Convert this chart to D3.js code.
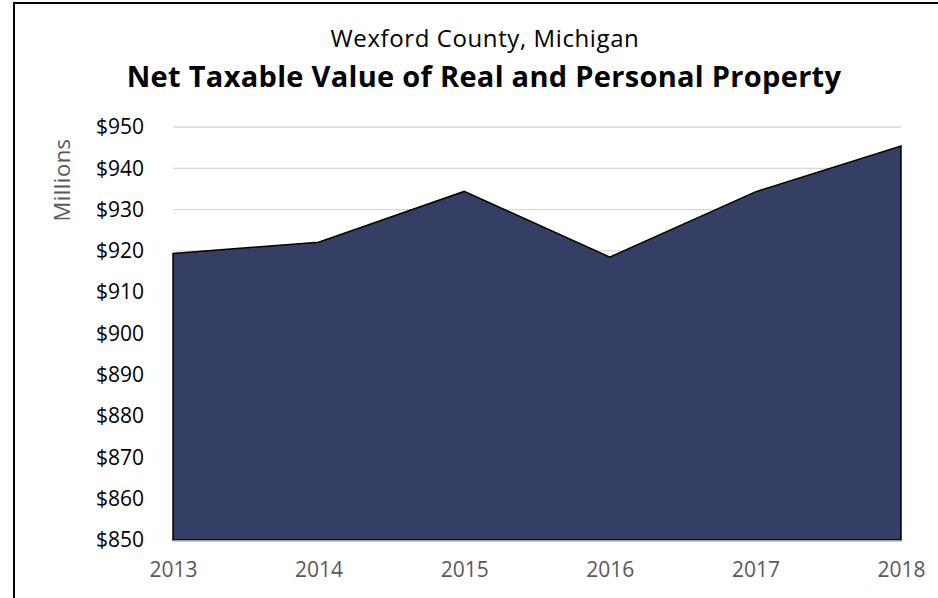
<!DOCTYPE html>
<meta charset="utf-8">
<script src="https://d3js.org/d3.v7.min.js"></script>
<style>
  body { margin: 0; background: #fff; }
  text { font-family: "Open Sans", "DejaVu Sans", sans-serif; }
</style>
<body>
<div id="chart"></div>
<script>
// data
var years = ["2013", "2014", "2015", "2016", "2017", "2018"];
var values = [919.4, 922.1, 934.4, 918.5, 934.3, 945.4];
var yTicks = [850, 860, 870, 880, 890, 900, 910, 920, 930, 940, 950];

var W = 938, H = 598;
var margin = {top: 127, right: 37, bottom: 58, left: 173};
var width = W - margin.left - margin.right,
    height = H - margin.top - margin.bottom;

var svg = d3.select("#chart").append("svg")
  .attr("width", W).attr("height", H);

// outer frame
svg.append("rect")
  .attr("x", 14).attr("y", 3)
  .attr("width", W + 10).attr("height", H + 10)
  .attr("fill", "none").attr("stroke", "#000").attr("stroke-width", 2);

svg.append("text")
  .attr("x", 485).attr("y", 47)
  .attr("text-anchor", "middle")
  .style("font-size", "24px").style("letter-spacing", "0.6px").style("fill", "#000")
  .text("Wexford County, Michigan");

svg.append("text")
  .attr("x", 484).attr("y", 87)
  .attr("text-anchor", "middle")
  .style("font-size", "29px").style("font-weight", "bold").style("fill", "#000")
  .style("letter-spacing", "0.3px")
  .text("Net Taxable Value of Real and Personal Property");

var g = svg.append("g")
  .attr("transform", "translate(" + margin.left + "," + margin.top + ")");

var x = d3.scalePoint().domain(years).range([0, width]);
var y = d3.scaleLinear().domain([850, 950]).range([height, 0]);

// gridlines
g.append("g").selectAll("line").data(yTicks.slice(1)).enter().append("line")
  .attr("x1", 0).attr("x2", width)
  .attr("y1", function(d) { return y(d); }).attr("y2", function(d) { return y(d); })
  .attr("stroke", "#d9d9d9").attr("stroke-width", 1.3);

var data = years.map(function(yr, i) { return {year: yr, value: values[i]}; });

var area = d3.area()
  .x(function(d) { return x(d.year); })
  .y0(y(850))
  .y1(function(d) { return y(d.value); });

g.append("path").datum(data)
  .attr("d", area)
  .attr("fill", "#353f66")
  .attr("stroke", "#000").attr("stroke-width", 1.5)
  .attr("stroke-linejoin", "miter");

// baseline
g.append("line")
  .attr("x1", 0).attr("x2", width)
  .attr("y1", height + 1).attr("y2", height + 1)
  .attr("stroke", "#bfbfbf").attr("stroke-width", 1.3);

// y axis labels
var yAxis = g.append("g")
  .call(d3.axisLeft(y).tickValues(yTicks).tickSize(0).tickPadding(29)
    .tickFormat(function(d) { return "$" + d; }));
yAxis.select(".domain").remove();
yAxis.selectAll("text")
  .style("font-size", "21px").style("fill", "#000")
  .style("font-family", "'Open Sans', sans-serif");

// x axis labels
var xAxis = g.append("g")
  .attr("transform", "translate(0," + height + ")")
  .call(d3.axisBottom(x).tickSize(0).tickPadding(22));
xAxis.select(".domain").remove();
xAxis.selectAll("text")
  .style("font-size", "21px").style("fill", "#595959")
  .style("font-family", "'Open Sans', sans-serif");

svg.append("text")
  .attr("transform", "translate(70,180) rotate(-90)")
  .attr("text-anchor", "middle")
  .style("font-size", "22px").style("fill", "#595959")
  .style("letter-spacing", "0.5px")
  .text("Millions");
</script>
</body>
